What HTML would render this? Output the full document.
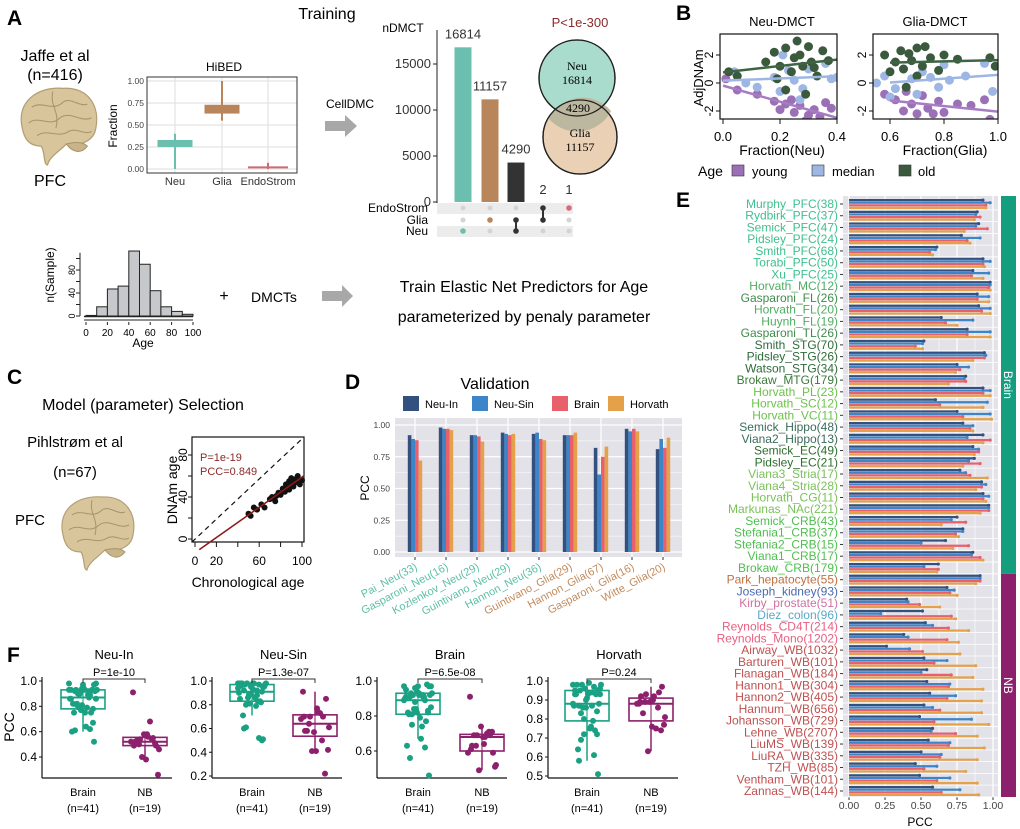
<!DOCTYPE html>
<html><head><meta charset="utf-8"><style>
html,body{margin:0;padding:0;background:#fff}
svg{display:block;font-family:"Liberation Sans",sans-serif}
</style></head><body>
<svg id="fig" width="1020" height="829" viewBox="0 0 1020 829">
<g>
<text x="7" y="25" font-size="21" font-weight="bold">A</text>
<text x="327" y="19" font-size="16" text-anchor="middle">Training</text>
<text x="55" y="61" font-size="16" text-anchor="middle">Jaffe et al</text>
<text x="55" y="80" font-size="16" text-anchor="middle">(n=416)</text>
<text x="50" y="186" font-size="16" text-anchor="middle">PFC</text>
<text x="224" y="71" font-size="12" text-anchor="middle">HiBED</text>
<text x="350" y="108" font-size="12" text-anchor="middle">CellDMC</text>
<polygon points="325,121 345,121 345,115 357,126 345,137 345,131 325,131" fill="#a8a8a8"/>
<text x="403" y="32" font-size="12" text-anchor="middle">nDMCT</text>
<text x="580" y="27" font-size="13" fill="#8b2a2a" text-anchor="middle">P&lt;1e-300</text>
<circle cx="577" cy="78" r="38" fill="#a9dccc" stroke="#222" stroke-width="1.3"/>
<circle cx="580" cy="137" r="37" fill="#e6c8a7" fill-opacity="0.85" stroke="#222" stroke-width="1.3"/>
<path d="M549,119 A38,38 0 0 0 611,111 A37,37 0 0 0 549,119 Z" fill="#bcb8a0"/>
<circle cx="577" cy="78" r="38" fill="none" stroke="#222" stroke-width="1.3"/>
<circle cx="580" cy="137" r="37" fill="none" stroke="#222" stroke-width="1.3"/>
<text x="577" y="70" font-size="12" font-family="Liberation Serif,serif" text-anchor="middle">Neu</text>
<text x="577" y="84" font-size="12" font-family="Liberation Serif,serif" text-anchor="middle">16814</text>
<text x="578" y="112" font-size="12" font-family="Liberation Serif,serif" text-anchor="middle">4290</text>
<text x="580" y="137" font-size="12" font-family="Liberation Serif,serif" text-anchor="middle">Glia</text>
<text x="580" y="151" font-size="12" font-family="Liberation Serif,serif" text-anchor="middle">11157</text>
<text x="224" y="301" font-size="16" text-anchor="middle">+</text>
<text x="274" y="302" font-size="14" text-anchor="middle">DMCTs</text>
<polygon points="322,291 342,291 342,285 353,296 342,307 342,301 322,301" fill="#a8a8a8"/>
<text x="524" y="292" font-size="16" text-anchor="middle">Train Elastic Net Predictors for Age</text>
<text x="524" y="322" font-size="16" text-anchor="middle">parameterized by penaly parameter</text>
<text x="143" y="347" font-size="12" text-anchor="middle">Age</text>
<text transform="translate(54,275) rotate(-90)" font-size="12" text-anchor="middle">n(Sample)</text>
</g>
<g>
<text x="676" y="20" font-size="21" font-weight="bold">B</text>
<text x="782" y="26" font-size="13" text-anchor="middle">Neu-DMCT</text>
<text x="935" y="26" font-size="13" text-anchor="middle">Glia-DMCT</text>
<text transform="translate(703,78) rotate(-90)" font-size="13" text-anchor="middle">AdjDNAm</text>
<text x="782" y="155" font-size="14" text-anchor="middle">Fraction(Neu)</text>
<text x="945" y="155" font-size="14" text-anchor="middle">Fraction(Glia)</text>
<text x="698" y="176" font-size="14">Age</text>
<rect x="732" y="165" width="12" height="11" fill="#9b70b7" stroke="#333" stroke-width=".6"/>
<text x="752" y="176" font-size="13">young</text>
<rect x="812" y="165" width="12" height="11" fill="#9db6e3" stroke="#333" stroke-width=".6"/>
<text x="832" y="176" font-size="13">median</text>
<rect x="899" y="165" width="12" height="11" fill="#3b5a3d" stroke="#333" stroke-width=".6"/>
<text x="918" y="176" font-size="13">old</text>
</g>
<g>
<text x="7" y="384" font-size="21" font-weight="bold">C</text>
<text x="143" y="410" font-size="16" text-anchor="middle">Model (parameter) Selection</text>
<text x="75" y="447" font-size="15" text-anchor="middle">Pihlstrøm et al</text>
<text x="75" y="477" font-size="15" text-anchor="middle">(n=67)</text>
<text x="30" y="525" font-size="15" text-anchor="middle">PFC</text>
<text x="248" y="587" font-size="14" text-anchor="middle">Chronological age</text>
<text transform="translate(177,490) rotate(-90)" font-size="14" text-anchor="middle">DNAm age</text>
<text x="200" y="461" font-size="11" fill="#8b2a2a">P=1e-19</text>
<text x="200" y="475" font-size="11" fill="#8b2a2a">PCC=0.849</text>
</g>
<g>
<text x="345" y="389" font-size="21" font-weight="bold">D</text>
<text x="495" y="389" font-size="16" text-anchor="middle">Validation</text>
<text transform="translate(369,488) rotate(-90)" font-size="12" text-anchor="middle">PCC</text>
</g>
<g>
<text x="676" y="207" font-size="21" font-weight="bold">E</text>
<text x="920" y="826" font-size="12" text-anchor="middle">PCC</text>
</g>
<g>
<text x="7" y="662" font-size="21" font-weight="bold">F</text>
<text transform="translate(14,727) rotate(-90)" font-size="14" text-anchor="middle">PCC</text>
</g>
</svg>
<script>
// ---------- data ----------
const hibedCats=['Neu','Glia','EndoStrom'];
const hibedQ1=[0.25,0.63,0.01];
const hibedMed=[0.28,0.70,0.02];
const hibedQ3=[0.33,0.73,0.03];
const hibedLo=[0.0,0.55,0.0];
const hibedHi=[0.40,1.0,0.07];
const upsetCounts=[16814,11157,4290,2,1];
const upsetTicks=[0,5000,10000,15000];
const histStarts=[0,10,20,30,40,50,60,70,80,90];
const histCounts=[1,16,47,52,113,90,44,16,8,3];
const histXTicks=[0,20,40,60,80,100];
const histYTicks=[0,40,80];
const bNeuOldX=[.02,.05,.15,.18,.2,.22,.24,.25,.26,.27,.28,.3,.31,.33,.35,.37,.22,.29,.19,.32];
const bNeuOldY=[.8,.5,1.5,2.2,1.2,2.5,.8,1.8,3,2,1.2,2.6,1.5,.5,2.3,1.6,-.5,-.8,.3,1.1];
const bNeuMedX=[.04,.08,.12,.18,.2,.23,.25,.28,.3,.33,.36,.38,.4,.27,.21];
const bNeuMedY=[.8,0,-.3,.4,-.6,.9,.2,-.4,1,.5,1.4,.3,.4,-1.2,2];
const bNeuYouX=[.01,.05,.12,.2,.22,.25,.27,.3,.32,.34,.36,.38,.29,.24,.18];
const bNeuYouY=[.3,-.5,-.8,-1.9,-1.5,-2.1,-1.6,-2.3,-1.9,-2.4,-1.4,-1.8,-2.7,-1.2,-1.3];
const bGliaOldX=[.58,.6,.62,.64,.65,.67,.68,.7,.72,.73,.75,.78,.8,.85,.97,.99,.7,.66];
const bGliaOldY=[2,.8,1.5,2.3,1,2.1,1.6,2.5,1.2,2.6,1.8,.9,2,1.7,1.8,1.2,.5,-.3];
const bGliaMedX=[.55,.58,.62,.65,.68,.7,.72,.75,.78,.82,.88,.95,.98,.6,.8];
const bGliaMedY=[0,.5,-.4,1,.3,-.8,.8,.4,-.3,.2,.5,1.4,-.6,-1,1.3];
const bGliaYouX=[.58,.62,.65,.68,.7,.72,.74,.78,.8,.85,.9,.95,.97,.66,.76];
const bGliaYouY=[-.8,-1.2,-2,-1.5,-2.2,-.9,-1.8,-1.3,-2.1,-1.5,-1.6,-1.2,-2.6,-.6,-2.2];
const cChron=[50,52,55,58,62,65,70,72,75,78,80,82,84,85,86,88,88,90,90,92,93,95,96,98,100,76,83,87,91,94];
const cDNAm=[24,22,30,28,33,30,38,40,36,44,42,48,45,52,50,55,47,53,58,50,56,54,60,52,56,41,46,49,51,57];
const dLabels=['Pai_Neu(33)','Gasparoni_Neu(16)','Kozlenkov_Neu(29)','Guintivano_Neu(29)','Hannon_Neu(36)','Guintivano_Glia(29)','Hannon_Glia(67)','Gasparoni_Glia(16)','Witte_Glia(20)'];
const dNeuIn=[.92,.98,.92,.94,.93,.92,.82,.97,.81];
const dNeuSin=[.89,.97,.92,.93,.94,.92,.61,.95,.89];
const dBrain=[.88,.97,.91,.92,.89,.92,.75,.97,.82];
const dHorvath=[.72,.96,.87,.93,.88,.94,.83,.95,.90];
const dTicks=[0,0.25,0.5,0.75,1];
const eLabels=['Murphy_PFC(38)','Rydbirk_PFC(37)','Semick_PFC(47)','Pidsley_PFC(24)','Smith_PFC(68)','Torabi_PFC(50)','Xu_PFC(25)','Horvath_MC(12)','Gasparoni_FL(26)','Horvath_FL(20)','Huynh_FL(19)','Gasparoni_TL(26)','Smith_STG(70)','Pidsley_STG(26)','Watson_STG(34)','Brokaw_MTG(179)','Horvath_PL(23)','Horvath_SC(12)','Horvath_VC(11)','Semick_Hippo(48)','Viana2_Hippo(13)','Semick_EC(49)','Pidsley_EC(21)','Viana3_Stria(17)','Viana4_Stria(28)','Horvath_CG(11)','Markunas_NAc(221)','Semick_CRB(43)','Stefania1_CRB(37)','Stefania2_CRB(15)','Viana1_CRB(17)','Brokaw_CRB(179)','Park_hepatocyte(55)','Joseph_kidney(93)','Kirby_prostate(51)','Diez_colon(96)','Reynolds_CD4T(214)','Reynolds_Mono(1202)','Airway_WB(1032)','Barturen_WB(101)','Flanagan_WB(184)','Hannon1_WB(304)','Hannon2_WB(405)','Hannum_WB(656)','Johansson_WB(729)','Lehne_WB(2707)','LiuMS_WB(139)','LiuRA_WB(335)','TZH_WB(85)','Ventham_WB(101)','Zannas_WB(144)'];
const eGroup=['Brain','Brain','Brain','Brain','Brain','Brain','Brain','Brain','Brain','Brain','Brain','Brain','Brain','Brain','Brain','Brain','Brain','Brain','Brain','Brain','Brain','Brain','Brain','Brain','Brain','Brain','Brain','Brain','Brain','Brain','Brain','Brain','NB','NB','NB','NB','NB','NB','NB','NB','NB','NB','NB','NB','NB','NB','NB','NB','NB','NB','NB'];
const eNeuIn=[.93,.89,.90,.78,.61,.93,.86,.98,.89,.90,.64,.82,.52,.94,.75,.81,.93,.60,.75,.79,.93,.86,.87,.77,.92,.93,.97,.75,.79,.67,.86,.62,.91,.68,.40,.51,.53,.38,.26,.52,.54,.54,.56,.52,.49,.58,.55,.50,.46,.49,.58];
const eNeuSin=[.98,.88,.88,.91,.60,.98,.97,.98,.97,.98,.86,.98,.51,.95,.83,.80,.98,.96,.98,.86,.82,.90,.83,.81,.95,.97,.97,.71,.79,.50,.85,.52,.91,.73,.41,.22,.58,.41,.42,.68,.50,.70,.74,.58,.85,.57,.70,.64,.61,.70,.77];
const eBrain=[.95,.91,.96,.82,.56,.93,.85,.97,.89,.92,.67,.82,.46,.94,.77,.81,.93,.63,.79,.84,.98,.90,.91,.84,.92,.93,.97,.81,.74,.83,.91,.62,.91,.70,.49,.71,.69,.68,.51,.59,.71,.69,.68,.63,.59,.74,.69,.63,.52,.61,.64];
const eHorvath=[.95,.87,.80,.84,.58,.94,.93,.98,.97,.98,.75,.98,.51,.86,.74,.69,.98,.93,.99,.86,.93,.87,.79,.96,.88,.95,.91,.64,.76,.72,.93,.61,.88,.75,.63,.74,.83,.76,.77,.88,.86,.93,.92,.92,.97,.89,.94,.89,.81,.89,.90];
const eTicks=[0,0.25,0.5,0.75,1];

// ---------- helpers ----------
const NS='http://www.w3.org/2000/svg';
const svg=document.getElementById('fig');
function mk(tag,a,p){const e=document.createElementNS(NS,tag);for(const k in a)e.setAttribute(k,a[k]);(p||svg).appendChild(e);return e;}
function tx(x,y,s,a,p){const e=mk('text',Object.assign({x:x,y:y},a||{}),p);e.textContent=s;return e;}
function lin(d0,d1,r0,r1){return v=>r0+(v-d0)*(r1-r0)/(d1-d0);}
function fit(xs,ys){const n=xs.length;let mx=0,my=0;for(let i=0;i<n;i++){mx+=xs[i];my+=ys[i];}mx/=n;my/=n;let sxy=0,sxx=0;for(let i=0;i<n;i++){sxy+=(xs[i]-mx)*(ys[i]-my);sxx+=(xs[i]-mx)**2;}const b=sxy/sxx;return [my-b*mx,b];}
function quant(arr,q){const s=arr.slice().sort((a,b)=>a-b);const p=(s.length-1)*q;const i=Math.floor(p);return s[i]+(s[Math.min(i+1,s.length-1)]-s[i])*(p-i);}

// ---------- brains ----------
function brain(cx,cy,s,name){
  const g=mk('g',{transform:`translate(${cx},${cy}) scale(${s})`});
  
  
  mk('path',{d:'M-34,5 C-40,-20 -20,-35 5,-33 C30,-34 40,-15 36,5 C34,18 20,22 8,20 C0,28 -8,32 -10,40 C-14,40 -12,28 -16,22 C-28,22 -32,15 -34,5 Z',fill:'#d8c59c',stroke:'#b39f74','stroke-width':1.2},g);
  mk('path',{d:'M-25,-15 C-15,-22 -5,-10 5,-20 C12,-25 20,-15 28,-18 M-28,0 C-18,-8 -8,5 2,-5 C12,-12 22,0 32,-5 M-20,12 C-10,5 0,15 10,8 C18,4 26,12 32,8 M-5,-30 C-8,-15 2,-12 -2,5',fill:'none',stroke:'#a8946a','stroke-width':1},g);
  mk('path',{d:'M8,20 C14,28 22,30 28,22 C24,18 16,18 8,20 Z',fill:'#c9b48a',stroke:'#a8946a','stroke-width':1},g);
}
brain(58,123,1.05,'brain-illustration-a');
brain(97,530,1.0,'brain-illustration-c');

// ---------- HiBED ----------
(function(){
  const y=lin(0,1,169,81);
  const xs=[175,222,268];
  const cols=['#6bbfae','#b9855a','#cf6b72'];
  const bg=mk('rect',{x:147,y:77,width:150,height:96,fill:'#fff',stroke:'#333','stroke-width':1});
  
  
  [0,0.25,0.5,0.75,1].forEach(t=>{
    mk('line',{x1:147,x2:297,y1:y(t),y2:y(t),stroke:'#ddd'});
    const l=tx(144,y(t)+3,t.toFixed(2),{'font-size':8.5,'text-anchor':'end',fill:'#444'});
    
    
  });
  xs.forEach(x=>mk('line',{x1:x,x2:x,y1:77,y2:173,stroke:'#ddd'}));
  mk('rect',{x:147,y:77,width:150,height:96,fill:'none',stroke:'#333'});
  hibedCats.forEach((c,i)=>{
    const w=i===2?40:35;
    mk('line',{x1:xs[i],x2:xs[i],y1:y(hibedHi[i]),y2:y(hibedLo[i]),stroke:cols[i],'stroke-width':2});
    const b=mk('rect',{x:xs[i]-w/2,y:y(hibedQ3[i]),width:w,height:Math.max(2,y(hibedQ1[i])-y(hibedQ3[i])),fill:cols[i]});
    
    
    mk('line',{x1:xs[i]-w/2,x2:xs[i]+w/2,y1:y(hibedMed[i]),y2:y(hibedMed[i]),stroke:cols[i],'stroke-width':1.5});
    const l=tx(xs[i],185,c,{'font-size':11,'text-anchor':'middle',fill:'#333'});
    
    
  });
  const t=tx(0,0,'Fraction',{'font-size':12,'text-anchor':'middle',transform:'translate(117,126) rotate(-90)'});
  
  
})();

// ---------- UpSet ----------
(function(){
  const y=lin(0,15000,202,64);
  const xs=[463,490,516,543,569];
  const cols=['#6bbfae','#b9855a','#333','#333','#333'];
  mk('line',{x1:437,x2:437,y1:30,y2:203,stroke:'#222'});
  upsetTicks.forEach(t=>{
    mk('line',{x1:433,x2:437,y1:y(t),y2:y(t),stroke:'#222'});
    const l=tx(431,y(t)+4,String(t),{'font-size':13,'text-anchor':'end',fill:'#333'});
    
    
  });
  upsetCounts.forEach((v,i)=>{
    const b=mk('rect',{x:xs[i]-8.5,y:y(v),width:17,height:202-y(v),fill:cols[i]});
    
    
    const l=tx(xs[i],y(v)-(i<3?9:8),String(v),{'font-size':13,'text-anchor':'middle',fill:'#333'});
    
    
  });
  mk('rect',{x:437,y:203,width:136,height:11,fill:'#ececec'});
  mk('rect',{x:437,y:226,width:136,height:11,fill:'#ececec'});
  const rows=['EndoStrom','Glia','Neu'], ry=[208,220,231];
  rows.forEach((r,i)=>{const l=tx(428,ry[i]+4,r,{'font-size':12,'text-anchor':'end'});
    
    
    xs.forEach(x=>mk('circle',{cx:x,cy:ry[i],r:2.5,fill:'#d4d4d4'}));});
  const sets=[[2],[1],[1,2],[0,1],[0]];
  const dc=['#6bbfae','#b9855a','#333','#333','#d96b7a'];
  sets.forEach((s,i)=>{
    if(s.length>1)mk('line',{x1:xs[i],x2:xs[i],y1:ry[s[0]],y2:ry[s[s.length-1]],stroke:'#333','stroke-width':2});
    s.forEach(k=>{const d=mk('circle',{cx:xs[i],cy:ry[k],r:2.8,fill:dc[i]});
      
      });
  });
})();

// ---------- histogram ----------
(function(){
  const x=lin(0,100,86,193), y=lin(0,80,316,270);
  histStarts.forEach((s,i)=>{
    const b=mk('rect',{x:x(s),y:y(histCounts[i]),width:x(s+10)-x(s),height:316-y(histCounts[i]),fill:'#c6c8cc',stroke:'#222','stroke-width':1});
    
    
  });
  mk('line',{x1:84,x2:193,y1:316.5,y2:316.5,stroke:'#222','stroke-width':1.6});
  mk('line',{x1:84,x2:193,y1:320,y2:320,stroke:'#222','stroke-width':1});
  mk('line',{x1:80,x2:80,y1:y(0),y2:y(110),stroke:'#222'});
  histYTicks.concat([20,60,100]).forEach(t=>mk('line',{x1:76,x2:80,y1:y(t),y2:y(t),stroke:'#222'}));
  histYTicks.forEach(t=>{const l=tx(0,0,String(t),{'font-size':9,'text-anchor':'middle',transform:`translate(75,${y(t)}) rotate(-90)`});
    
    });
  histXTicks.forEach(t=>{const l=tx(x(t),336,String(t),{'font-size':10,'text-anchor':'middle'});
    
    
    mk('line',{x1:x(t),x2:x(t),y1:322,y2:325,stroke:'#222'});});
})();

// ---------- panel B scatter ----------
function bPanel(x0,x1,d0,d1,ticks,sets,name,bx){
  const x=lin(d0,d1,x0,x1), y=lin(-2,2,111,55);
  const cols=['#9b70b7','#9db6e3','#3b5a3d'], lc=['#a77cc4','#9db6e3','#3f6443'];
  const clip='clip-'+name;
  const cp=mk('clipPath',{id:clip}); mk('rect',{x:bx,y:34,width:x1-bx,height:85},cp);
  const g=mk('g',{'clip-path':`url(#${clip})`});
  
  
  sets.forEach((s,k)=>{s[0].forEach((v,i)=>{const p=mk('circle',{cx:x(v),cy:y(s[1][i]),r:4.5,fill:cols[k]},g);
    
    });});
  sets.forEach((s,k)=>{const f=fit(s[0],s[1]);const l=mk('line',{x1:x0,x2:x1,y1:y(f[0]+f[1]*d0),y2:y(f[0]+f[1]*d1),stroke:lc[k],'stroke-width':2.5},g);
    
    });
  mk('rect',{x:bx,y:34,width:x1-bx,height:85,fill:'none',stroke:'#111','stroke-width':1.2});
  ticks.forEach(t=>{mk('line',{x1:x(t),x2:x(t),y1:119,y2:124,stroke:'#111'});
    const l=tx(x(t),141,t.toFixed(1),{'font-size':13,'text-anchor':'middle'});
    
    });
  [-2,0,2].forEach(t=>{mk('line',{x1:bx-4,x2:bx,y1:y(t),y2:y(t),stroke:'#111'});
    const l=tx(0,0,String(t),{'font-size':12,'text-anchor':'middle',transform:`translate(${bx-7},${y(t)}) rotate(-90)`});
    
    });
}
bPanel(723,837,0,0.4,[0,0.2,0.4],[[bNeuYouX,bNeuYouY],[bNeuMedX,bNeuMedY],[bNeuOldX,bNeuOldY]],'neu-dmct-scatter',720);
bPanel(890,998,0.6,1.0,[0.6,0.8,1.0],[[bGliaYouX,bGliaYouY],[bGliaMedX,bGliaMedY],[bGliaOldX,bGliaOldY]],'glia-dmct-scatter',873);

// ---------- panel C scatter ----------
(function(){
  const x=lin(0,100,195,302), y=lin(0,80,539,455);
  mk('rect',{x:192,y:437,width:112,height:105,fill:'none',stroke:'#111','stroke-width':1.2});
  mk('line',{x1:192,y1:542,x2:304,y2:437,stroke:'#111','stroke-dasharray':'5,4','stroke-width':1.2});
  const f=fit(cChron,cDNAm);
  cChron.forEach((v,i)=>{const p=mk('circle',{cx:x(v),cy:y(cDNAm[i]),r:3,fill:'#111'});
    
    });
  const l=mk('line',{x1:x(4),y1:y(f[0]+f[1]*4),x2:x(102),y2:y(f[0]+f[1]*102),stroke:'#8b1a1a','stroke-width':1.6});
  
  
  [0,20,40,60,80,100].forEach(t=>mk('line',{x1:x(t),x2:x(t),y1:542,y2:547,stroke:'#111'}));
  [0,20,60,100].forEach(t=>{const k=tx(x(t),565,String(t),{'font-size':12,'text-anchor':'middle'});
    
    });
  [0,20,40,60,80,100].forEach(t=>{if(y(t)>437)mk('line',{x1:188,x2:192,y1:y(t),y2:y(t),stroke:'#111'});});
  [0,40,80].forEach(t=>{const k=tx(0,0,String(t),{'font-size':12,'text-anchor':'middle',transform:`translate(187,${y(t)}) rotate(-90)`});
    
    });
})();

// ---------- panel D ----------
(function(){
  const y=lin(0,1,552,425);
  const x0=395, x1=682, cx=i=>415+i*31;
  const series=[dNeuIn,dNeuSin,dBrain,dHorvath];
  const cols=['#34507e','#3b85c8','#e8606c','#e5a04a'];
  const names=['Neu-In','Neu-Sin','Brain','Horvath'];
  const lx=[403,472,552,608];
  names.forEach((n,k)=>{const r=mk('rect',{x:lx[k],y:396,width:16,height:15,fill:cols[k]});
    
    
    const t=tx(lx[k]+22,408,n,{'font-size':11});
    
    });
  const bg=mk('rect',{x:x0,y:418,width:x1-x0,height:139,fill:'#e2e2e8'});
  
  
  for(let t=0.125;t<1.1;t+=0.25)mk('line',{x1:x0,x2:x1,y1:y(t),y2:y(t),stroke:'#fff','stroke-width':.6});
  dTicks.forEach(t=>{mk('line',{x1:x0,x2:x1,y1:y(t),y2:y(t),stroke:'#fff','stroke-width':1.2});
    const l=tx(390,y(t)+3,t.toFixed(2),{'font-size':8.5,'text-anchor':'end',fill:'#444'});
    
    });
  dLabels.forEach((lab,i)=>{
    mk('line',{x1:cx(i),x2:cx(i),y1:418,y2:557,stroke:'#fff','stroke-width':1.2});
    series.forEach((s,k)=>{const b=mk('rect',{x:cx(i)-7.2+k*3.6,y:y(s[i]),width:3.6,height:552-y(s[i]),fill:cols[k]});
      
      });
    mk('line',{x1:cx(i),x2:cx(i),y1:557,y2:560,stroke:'#333'});
    const l=tx(0,0,lab,{'font-size':11,'text-anchor':'end',fill:lab.indexOf('Neu')>=0?'#5bbfa5':'#c08a5a',transform:`translate(${cx(i)+3},569) rotate(-28)`});
    
    
  });
})();

// ---------- panel E ----------
(function(){
  const x=lin(0,1,849,993);
  const ry=i=>204+i*11.74;
  const series=[eNeuIn,eNeuSin,eBrain,eHorvath];
  const cols=['#34507e','#3b85c8','#e8606c','#e5a04a'];
  const labCol=['#3fbf8f','#3fbf8f','#3fbf8f','#3fbf8f','#3fbf8f','#3fbf8f','#3fbf8f','#4fae62','#3d8c4a','#4fae62','#4fae62','#3d8c4a','#2e6b3a','#2e6b3a','#2e6b3a','#3b7a3b','#6cc24a','#6cc24a','#6cc24a','#3a6b58','#3a6b58','#2d6e2d','#2d6e2d','#7ac25a','#7ac25a','#7ac25a','#7ac25a','#4fbf4f','#4fbf4f','#4fbf4f','#4fbf4f','#4fbf4f','#c07040','#4a6aad','#d070a0','#5aa8c8','#e86080','#e86080','#c05050','#c05050','#c05050','#c05050','#c05050','#c05050','#c05050','#c05050','#c05050','#c05050','#c05050','#c05050','#c05050'];
  const bg=mk('rect',{x:843,y:196,width:155,height:601,fill:'#e2e2e8'});
  
  
  for(let t=0.125;t<1.1;t+=0.25)mk('line',{x1:x(t),x2:x(t),y1:196,y2:797,stroke:'#fff','stroke-width':.6});
  eTicks.forEach(t=>{mk('line',{x1:x(t),x2:x(t),y1:196,y2:797,stroke:'#fff','stroke-width':1.3});
    mk('line',{x1:x(t),x2:x(t),y1:797,y2:800,stroke:'#333'});
    const l=tx(x(t),809,t.toFixed(2),{'font-size':10.5,'text-anchor':'middle',fill:'#444'});
    
    });
  eLabels.forEach((lab,i)=>{
    mk('line',{x1:843,x2:998,y1:ry(i)+5.87,y2:ry(i)+5.87,stroke:'#fff','stroke-width':.8});
    series.forEach((s,k)=>{const yy=ry(i)-3.9+k*2.6;
      const b=mk('line',{x1:x(0),x2:x(s[i]),y1:yy,y2:yy,stroke:cols[k],'stroke-width':2.2});
      
      
      mk('circle',{cx:x(s[i]),cy:yy,r:1.6,fill:cols[k]});});
    mk('line',{x1:840,x2:843,y1:ry(i),y2:ry(i),stroke:'#333'});
    const l=tx(838,ry(i)+4,lab,{'font-size':12,'text-anchor':'end',fill:labCol[i]});
    
    
  });
  const nb=eGroup.indexOf('NB');
  const split=(ry(nb-1)+ry(nb))/2;
  const s1=mk('rect',{x:1001,y:196,width:15,height:split-196,fill:'#149e7e'});
  
  
  const s2=mk('rect',{x:1001,y:split,width:15,height:797-split,fill:'#8d206c'});
  
  
  const t1=tx(0,0,'Brain',{'font-size':12,fill:'#fff','text-anchor':'middle',transform:`translate(1004,${(196+split)/2}) rotate(90)`});
  
  
  const t2=tx(0,0,'NB',{'font-size':12,fill:'#fff','text-anchor':'middle',transform:`translate(1004,${(split+797)/2}) rotate(90)`});
  
  
})();

// ---------- panel F ----------
(function(){
  const nb0=eGroup.indexOf('NB');
  const cfg=[
    {title:'Neu-In',p:'P=1e-10',ax:42,bx:83,nx:145,d0:0.4,r0:757,ticks:[0.4,0.6,0.8,1.0],b:eNeuIn.slice(0,nb0).concat(dNeuIn),n:eNeuIn.slice(nb0),dig:1},
    {title:'Neu-Sin',p:'P=1.3e-07',ax:212,bx:252,nx:315,d0:0.2,r0:776,ticks:[0.2,0.4,0.6,0.8,1.0],b:eNeuSin.slice(0,nb0).concat(dNeuSin),n:eNeuSin.slice(nb0),dig:1},
    {title:'Brain',p:'P=6.5e-08',ax:377,bx:418,nx:482,d0:0.6,r0:751,ticks:[0.6,0.8,1.0],b:eBrain.slice(0,nb0).concat(dBrain),n:eBrain.slice(nb0),dig:1},
    {title:'Horvath',p:'P=0.24',ax:548,bx:587,nx:651,d0:0.5,r0:776,ticks:[0.5,0.6,0.7,0.8,0.9,1.0],b:eHorvath.slice(0,nb0).concat(dHorvath),n:eHorvath.slice(nb0),dig:1}
  ];
  const jit=[-12,5,-3,10,-8,1,13,-14,7,-5,3,-10,11,-1,8,-6,14,-11,2,-4,9,-13,6,-2,12,-7,0,-9,4,10,-12,7,-3,13,-8,1,-14,5,-6,11,-1];
  cfg.forEach((c,ci)=>{
    const y=lin(c.d0,1,c.r0,681);
    const t=tx((c.bx+c.nx)/2,659,c.title,{'font-size':13,'text-anchor':'middle'});
    
    
    mk('line',{x1:c.ax,x2:c.ax,y1:677,y2:778,stroke:'#111','stroke-width':1.2});
    mk('line',{x1:c.ax,x2:c.ax+130,y1:778,y2:778,stroke:'#111','stroke-width':1.2});
    c.ticks.forEach(tk=>{mk('line',{x1:c.ax-3,x2:c.ax,y1:y(tk),y2:y(tk),stroke:'#111'});
      const l=tx(c.ax-5,y(tk)+4,tk.toFixed(c.dig),{'font-size':12,'text-anchor':'end'});
      
      });
    [[c.bx,'Brain','(n=41)',c.b,'#1aa183'],[c.nx,'NB','(n=19)',c.n,'#8d206c']].forEach(gr=>{
      const v=gr[3], q1=quant(v,.25), md=quant(v,.5), q3=quant(v,.75), iq=q3-q1;
      const lo=Math.min(...v.filter(a=>a>=q1-1.5*iq)), hi=Math.max(...v.filter(a=>a<=q3+1.5*iq));
      mk('line',{x1:gr[0],x2:gr[0],y1:y(hi),y2:y(lo),stroke:gr[4],'stroke-width':1.5});
      const bx=mk('rect',{x:gr[0]-22,y:y(q3),width:44,height:y(q1)-y(q3),fill:'#fff','fill-opacity':0.3,stroke:gr[4],'stroke-width':1.6});
      
      
      mk('line',{x1:gr[0]-22,x2:gr[0]+22,y1:y(md),y2:y(md),stroke:gr[4],'stroke-width':2});
      v.forEach((a,i)=>{const p=mk('circle',{cx:gr[0]+jit[i%jit.length],cy:y(a),r:3,fill:gr[4]});
        
        });
      const l1=tx(gr[0],796,gr[1],{'font-size':11,'text-anchor':'middle'});
      
      
      const l2=tx(gr[0],812,gr[2],{'font-size':11,'text-anchor':'middle'});
      
      
    });
    mk('path',{d:`M${c.bx},683 V679 H${c.nx} V683`,fill:'none',stroke:'#333'});
    const p=tx((c.bx+c.nx)/2,676,c.p,{'font-size':11,'text-anchor':'middle'});
    
    
  });
})();
</script>
</body></html>
